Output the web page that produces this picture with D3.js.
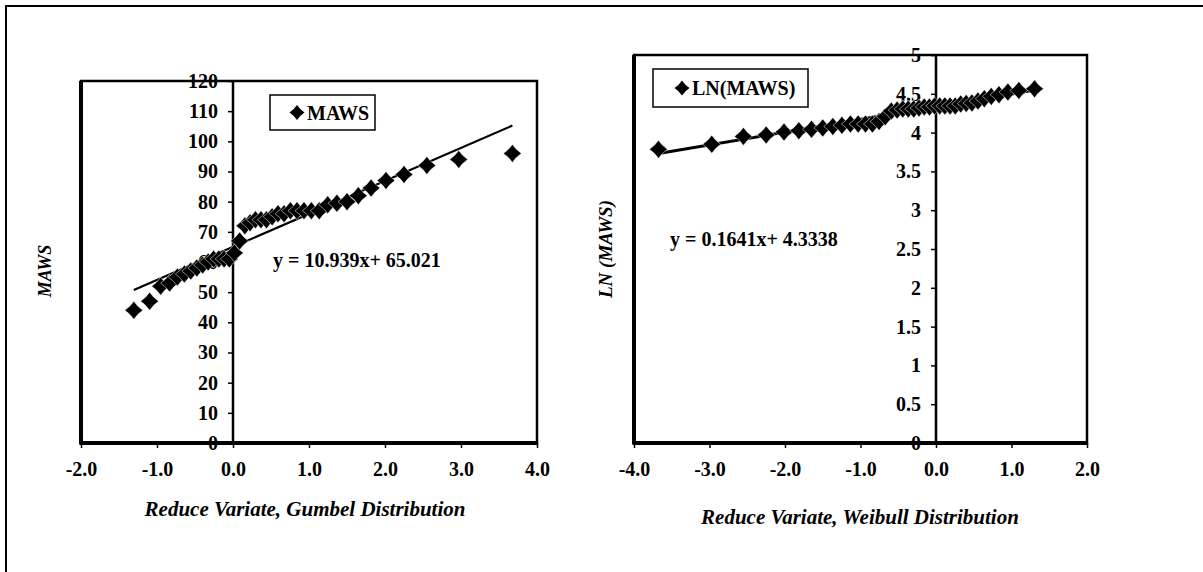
<!DOCTYPE html>
<html><head><meta charset="utf-8">
<script src="https://cdn.jsdelivr.net/npm/d3@7"></script>
<style>
body{margin:0;background:#fff}
svg{display:block}
text{font-family:"Liberation Serif","Times New Roman",serif;font-weight:bold;fill:#000}
</style>
</head><body>
<svg id="c" width="1203" height="572"></svg>
<script>
// ---- data ----
const gumbelX = [-1.305,-1.097,-0.952,-0.834,-0.732,-0.640,-0.556,-0.476,-0.400,-0.327,-0.255,-0.186,-0.117,-0.049,0.019,0.087,0.156,0.225,0.295,0.367,0.440,0.515,0.592,0.672,0.755,0.842,0.934,1.031,1.134,1.246,1.367,1.500,1.649,1.817,2.013,2.250,2.551,2.970,3.676];
const maws = [44,47,52,53,55,56,57,58,59,60,61,61,61,61,63,67,72,73,74,74,74,75,76,76,77,77,77,77,77,79,79.5,80,82,84.5,87,89,92,94,96];
const weibullX = [-3.676,-2.970,-2.551,-2.250,-2.013,-1.817,-1.649,-1.500,-1.367,-1.246,-1.134,-1.031,-0.934,-0.842,-0.755,-0.672,-0.592,-0.515,-0.440,-0.367,-0.295,-0.225,-0.156,-0.087,-0.019,0.049,0.117,0.186,0.255,0.327,0.400,0.476,0.556,0.640,0.732,0.834,0.952,1.097,1.305];
const lnMaws = [3.784,3.850,3.951,3.970,4.007,4.025,4.043,4.060,4.078,4.094,4.111,4.111,4.111,4.111,4.143,4.205,4.277,4.290,4.304,4.304,4.304,4.317,4.331,4.331,4.344,4.344,4.344,4.344,4.344,4.369,4.376,4.382,4.407,4.437,4.466,4.489,4.522,4.543,4.564];
const leftXTicks = [-2,-1,0,1,2,3,4];
const leftYTicks = [0,10,20,30,40,50,60,70,80,90,100,110,120];
const rightXTicks = [-4,-3,-2,-1,0,1,2];
const rightYTicks = [0,0.5,1,1.5,2,2.5,3,3.5,4,4.5,5];
const leftFit = [10.939, 65.021];
const rightFit = [0.1641, 4.3338];
const leftEq = "y = 10.939x+ 65.021";
const rightEq = "y = 0.1641x+ 4.3338";
const leftLegend = "MAWS";
const rightLegend = "LN(MAWS)";
const leftXTitle = "Reduce Variate, Gumbel Distribution";
const rightXTitle = "Reduce Variate, Weibull Distribution";
const leftYTitle = "MAWS";
const rightYTitle = "LN (MAWS)";

const svg = d3.select("#c");
svg.append("rect").attr("x",6).attr("y",6).attr("width",1400).attr("height",800)
  .attr("fill","none").attr("stroke","#000").attr("stroke-width",2);

function diamond(r){
  const c=0.4*r;
  return `M0,${-r}Q${c},${-c} ${r},0Q${c},${c} 0,${r}Q${-c},${c} ${-r},0Q${-c},${-c} 0,${-r}Z`;
}

function panel(o){
  const g = svg.append("g");
  const x = d3.scaleLinear().domain(o.xDom).range([o.x0,o.x1]);
  const y = d3.scaleLinear().domain(o.yDom).range([o.y1,o.y0]);
  g.append("rect").attr("x",o.x0).attr("y",o.y0).attr("width",o.x1-o.x0).attr("height",o.y1-o.y0)
    .attr("fill","none").attr("stroke","#000").attr("stroke-width",2.5);
  g.append("line").attr("x1",o.x0).attr("x2",o.x0).attr("y1",o.y0).attr("y2",o.y1+1.5).attr("stroke","#000").attr("stroke-width",4);
  const xa = g.append("g").attr("transform",`translate(0,${o.y1})`)
    .call(d3.axisBottom(x).tickValues(o.xTicks).tickSize(5).tickPadding(14).tickFormat(d=>d.toFixed(1)));
  xa.select(".domain").attr("stroke-width",4).attr("d",`M${o.x0-1},0H${o.x1+1}`);
  xa.selectAll(".tick line").attr("stroke-width",1.5);
  xa.selectAll("text").style("font-size","20px");
  const ya = g.append("g").attr("transform",`translate(${x(0)},0)`)
    .call(d3.axisLeft(y).tickValues(o.yTicks).tickSize(5).tickPadding(10).tickFormat(d=>String(d)));
  ya.select(".domain").attr("stroke-width",2.5).attr("d",`M0,${o.y0}V${o.y1}`);
  ya.selectAll(".tick line").attr("stroke-width",1.5);
  ya.selectAll("text").style("font-size","20px");
  const xe = d3.extent(o.xs);
  g.append("line").attr("x1",x(xe[0])).attr("y1",y(o.fit[0]*xe[0]+o.fit[1]))
    .attr("x2",x(xe[1])).attr("y2",y(o.fit[0]*xe[1]+o.fit[1]))
    .attr("stroke","#000").attr("stroke-width",o.lw);
  g.selectAll("path.pt").data(o.xs.map((v,i)=>[v,o.ys[i]])).enter().append("path")
    .attr("class","pt").attr("d",diamond(9))
    .attr("transform",d=>`translate(${x(d[0])},${y(d[1])})`)
    .attr("fill","#000").attr("stroke","#fff").attr("stroke-width",0.5);
  const L=o.legend;
  g.append("rect").attr("x",L.x).attr("y",L.y).attr("width",L.w).attr("height",L.h)
    .attr("fill","#fff").attr("stroke","#000").attr("stroke-width",1.5);
  g.append("path").attr("d",diamond(7.5)).attr("transform",`translate(${L.mx},${L.y+L.h/2})`).attr("fill","#000");
  g.append("text").attr("x",L.mx+10).attr("y",L.y+L.h/2).attr("dy","0.35em")
    .style("font-size","20px").text(L.text);
  g.append("text").attr("x",o.eq.x).attr("y",o.eq.y).style("font-size","20px").text(o.eq.text);
  g.append("text").attr("x",o.xt.x).attr("y",o.xt.y).attr("text-anchor","middle")
    .style("font-size","21px").style("font-style","italic").text(o.xt.text);
  g.append("text").attr("transform",`translate(${o.yt.x},${o.yt.y}) rotate(-90)`).attr("text-anchor","middle")
    .style("font-size",o.ytSize).style("font-style","italic").text(o.yt.text);
}

panel({x0:81,x1:537,y0:81,y1:443,xDom:[-2,4],yDom:[0,120],xTicks:leftXTicks,yTicks:leftYTicks,
  xs:gumbelX,ys:maws,fit:leftFit,lw:2.2,ytSize:"18px",
  legend:{x:270,y:95,w:105,h:35,mx:297,text:leftLegend},
  eq:{x:273,y:267,text:leftEq},
  xt:{x:305,y:516,text:leftXTitle},
  yt:{x:51,y:271,text:leftYTitle}});

panel({x0:634,x1:1087,y0:55,y1:443,xDom:[-4,2],yDom:[0,5],xTicks:rightXTicks,yTicks:rightYTicks,
  xs:weibullX,ys:lnMaws,fit:rightFit,lw:3,ytSize:"19px",
  legend:{x:653,y:69,w:155,h:38,mx:682,text:rightLegend},
  eq:{x:670,y:246,text:rightEq},
  xt:{x:860,y:524,text:rightXTitle},
  yt:{x:612,y:249,text:rightYTitle}});
</script>
</body></html>
